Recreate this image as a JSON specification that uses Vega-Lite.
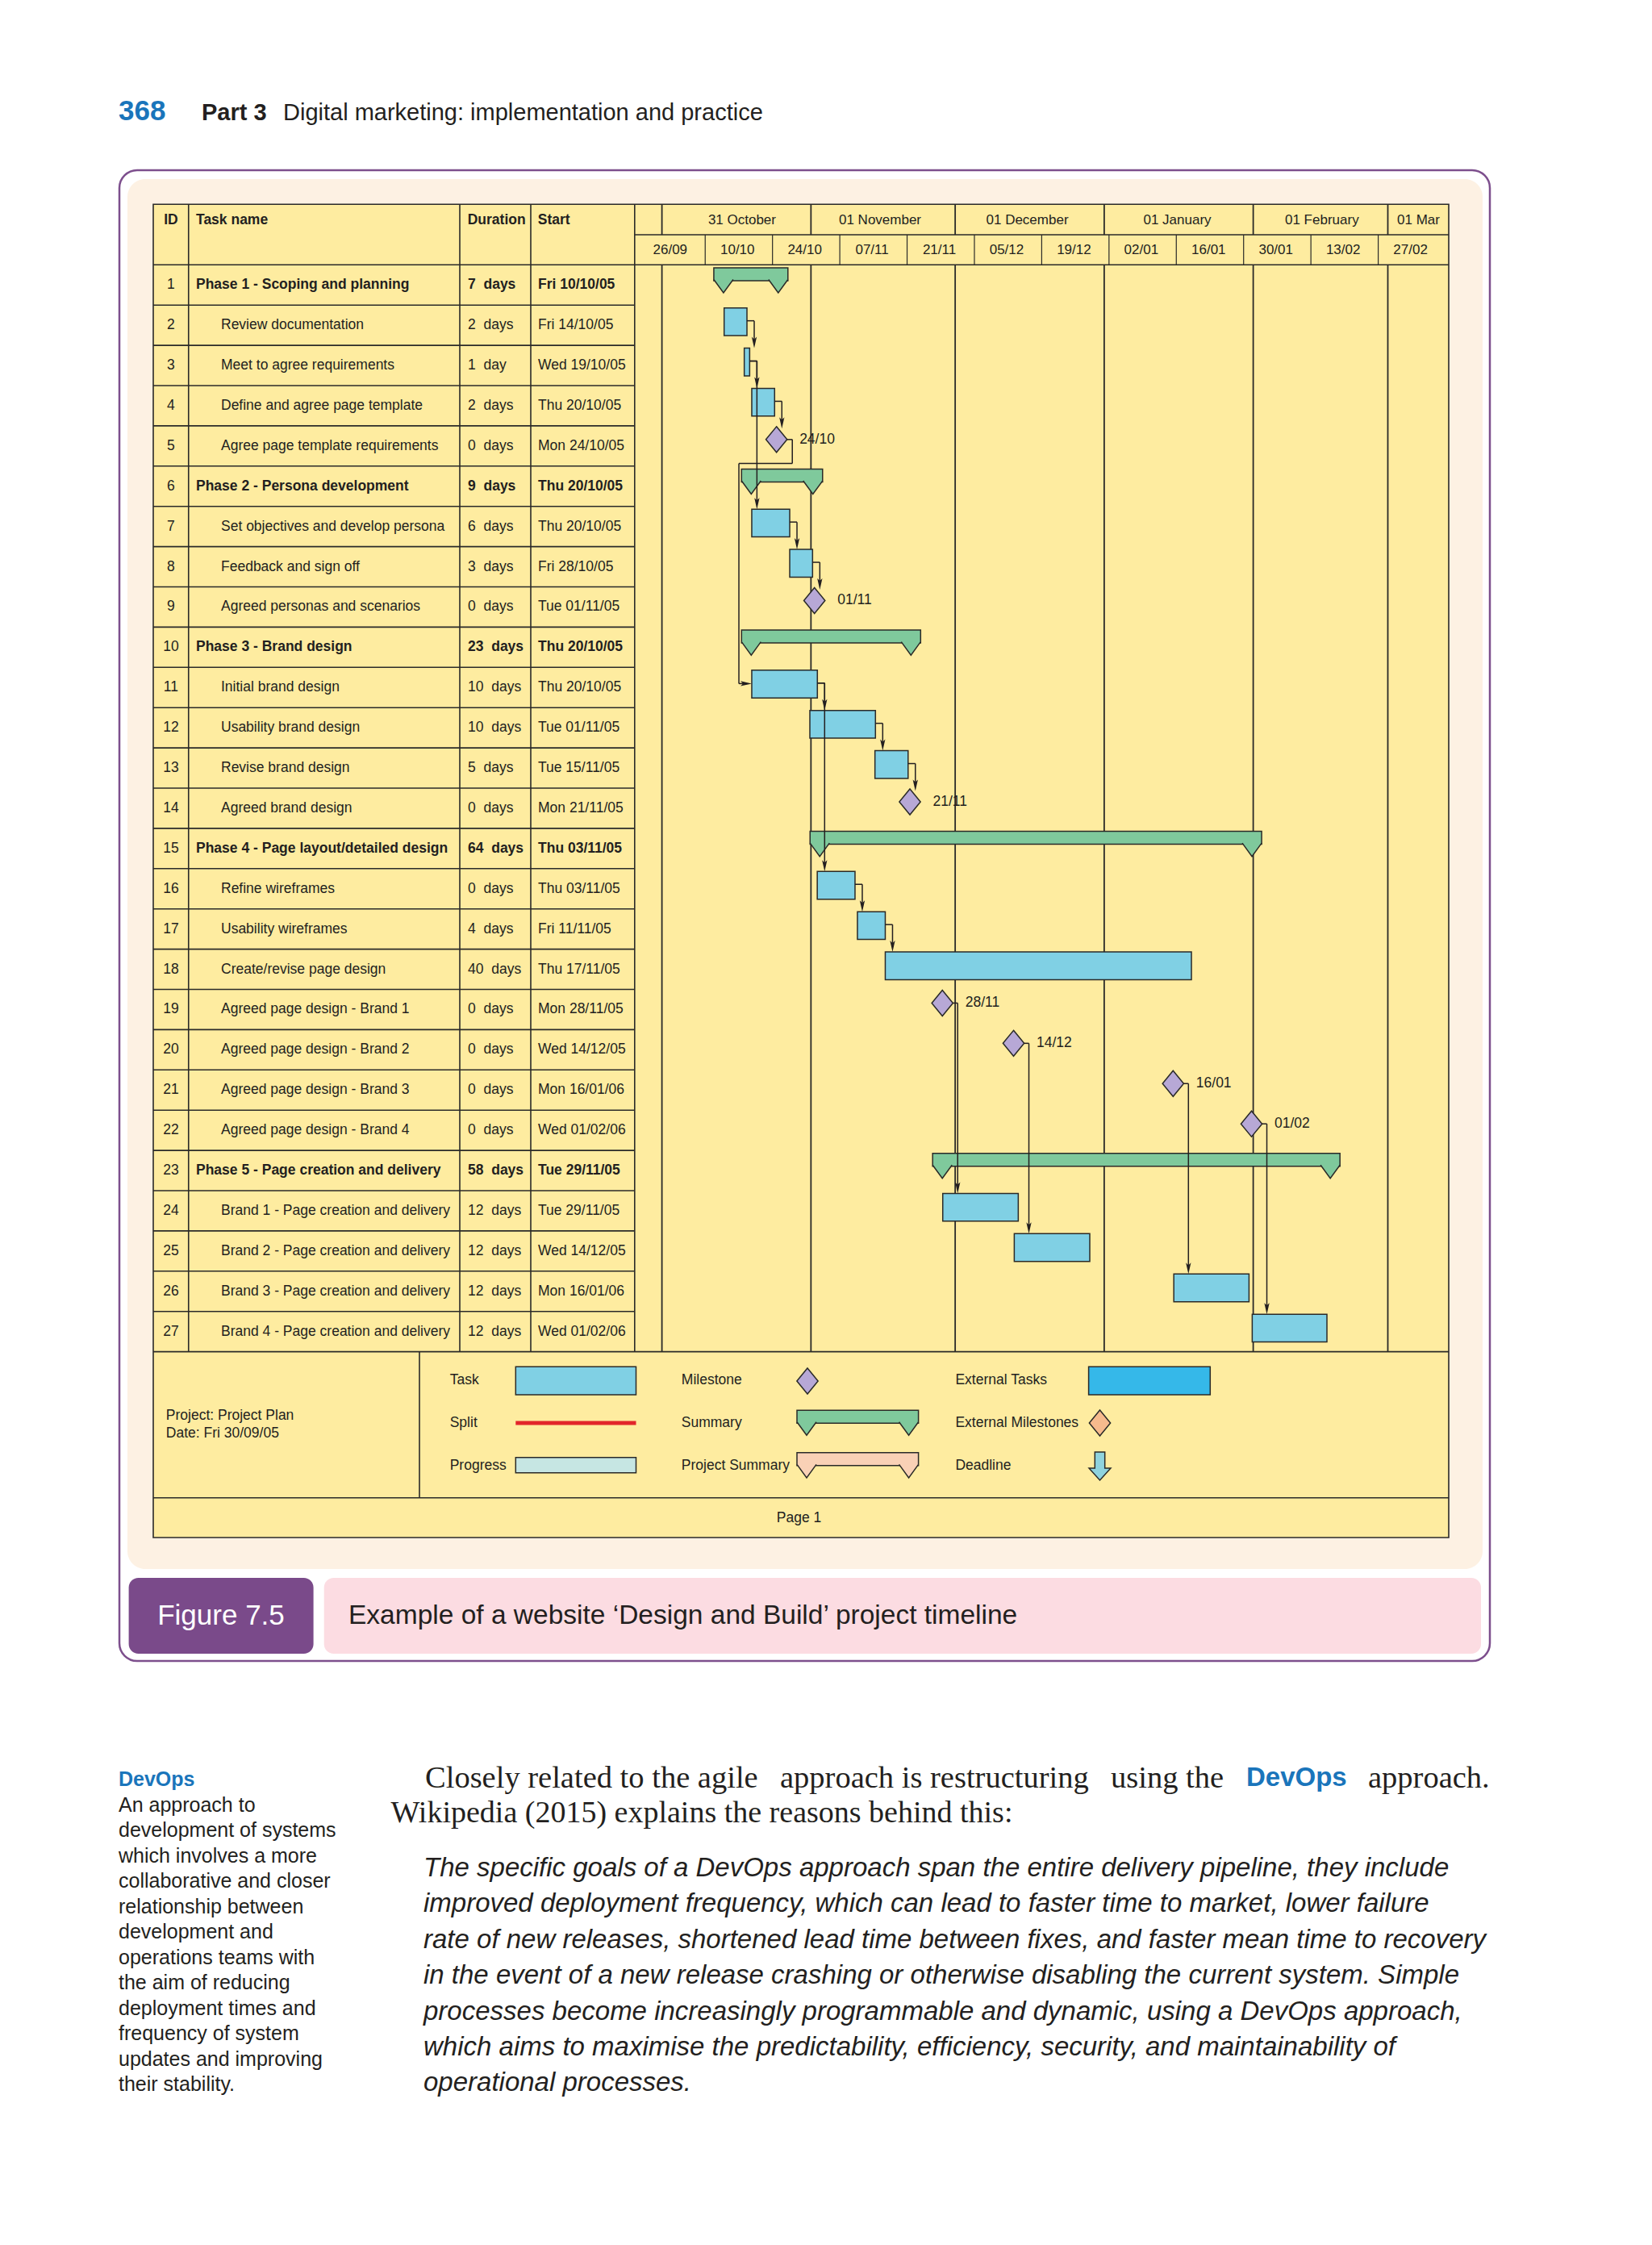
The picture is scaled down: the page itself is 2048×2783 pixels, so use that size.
{
"$schema": "https://vega.github.io/schema/vega-lite/v6.json",
"width": 2048, "height": 2783, "autosize": "none", "padding": 0,
"background": "#ffffff",
"config": {"view": {"stroke": null}, "text": {"font": "Liberation Sans", "color": "#231f20"}},
"datasets": {
 "one": [{}],
 "tasks": [
  {"id":1,"name":"Phase 1 - Scoping and planning","dur":"7\u00a0\u00a0days","start":"Fri 10/10/05","type":"summary","s":"2005-10-11T19:00","e":"2005-10-27T05:00"},
  {"id":2,"name":"Review documentation","dur":"2\u00a0\u00a0days","start":"Fri 14/10/05","type":"task","s":"2005-10-13T22:30","e":"2005-10-18T16:30"},
  {"id":3,"name":"Meet to agree requirements","dur":"1\u00a0\u00a0day","start":"Wed 19/10/05","type":"task","s":"2005-10-18T03:00","e":"2005-10-19T06:00"},
  {"id":4,"name":"Define and agree page template","dur":"2\u00a0\u00a0days","start":"Thu 20/10/05","type":"task","s":"2005-10-19T16:30","e":"2005-10-24T10:30"},
  {"id":5,"name":"Agree page template requirements","dur":"0\u00a0\u00a0days","start":"Mon 24/10/05","type":"milestone","s":"2005-10-24T20:00","e":"2005-10-24T20:00","lbl":"24/10"},
  {"id":6,"name":"Phase 2 - Persona development","dur":"9\u00a0\u00a0days","start":"Thu 20/10/05","type":"summary","s":"2005-10-17T13:30","e":"2005-11-03T10:00"},
  {"id":7,"name":"Set objectives and develop persona","dur":"6\u00a0\u00a0days","start":"Thu 20/10/05","type":"task","s":"2005-10-19T16:30","e":"2005-10-27T14:00"},
  {"id":8,"name":"Feedback and sign off","dur":"3\u00a0\u00a0days","start":"Fri 28/10/05","type":"task","s":"2005-10-27T14:00","e":"2005-11-01T08:00"},
  {"id":9,"name":"Agreed personas and scenarios","dur":"0\u00a0\u00a0days","start":"Tue 01/11/05","type":"milestone","s":"2005-11-01T17:30","e":"2005-11-01T17:30","lbl":"01/11"},
  {"id":10,"name":"Phase 3 - Brand design","dur":"23\u00a0\u00a0days","start":"Thu 20/10/05","type":"summary","s":"2005-10-17T13:30","e":"2005-11-23T19:30"},
  {"id":11,"name":"Initial brand design","dur":"10\u00a0\u00a0days","start":"Thu 20/10/05","type":"task","s":"2005-10-19T16:30","e":"2005-11-02T08:00"},
  {"id":12,"name":"Usability brand design","dur":"10\u00a0\u00a0days","start":"Tue 01/11/05","type":"task","s":"2005-10-31T18:30","e":"2005-11-14T10:00"},
  {"id":13,"name":"Revise brand design","dur":"5\u00a0\u00a0days","start":"Tue 15/11/05","type":"task","s":"2005-11-14T07:30","e":"2005-11-21T05:00"},
  {"id":14,"name":"Agreed brand design","dur":"0\u00a0\u00a0days","start":"Mon 21/11/05","type":"milestone","s":"2005-11-21T14:00","e":"2005-11-21T14:00","lbl":"21/11"},
  {"id":15,"name":"Phase 4 - Page layout/detailed design","dur":"64\u00a0\u00a0days","start":"Thu 03/11/05","type":"summary","s":"2005-10-31T19:30","e":"2006-02-02T18:00"},
  {"id":16,"name":"Refine wireframes","dur":"0\u00a0\u00a0days","start":"Thu 03/11/05","type":"task","s":"2005-11-02T07:30","e":"2005-11-10T04:00"},
  {"id":17,"name":"Usability wireframes","dur":"4\u00a0\u00a0days","start":"Fri 11/11/05","type":"task","s":"2005-11-10T16:00","e":"2005-11-16T11:00"},
  {"id":18,"name":"Create/revise page design","dur":"40\u00a0\u00a0days","start":"Thu 17/11/05","type":"task","s":"2005-11-16T11:00","e":"2006-01-19T03:30"},
  {"id":19,"name":"Agreed page design - Brand 1","dur":"0\u00a0\u00a0days","start":"Mon 28/11/05","type":"milestone","s":"2005-11-28T08:00","e":"2005-11-28T08:00","lbl":"28/11"},
  {"id":20,"name":"Agreed page design - Brand 2","dur":"0\u00a0\u00a0days","start":"Wed 14/12/05","type":"milestone","s":"2005-12-13T03:30","e":"2005-12-13T03:30","lbl":"14/12"},
  {"id":21,"name":"Agreed page design - Brand 3","dur":"0\u00a0\u00a0days","start":"Mon 16/01/06","type":"milestone","s":"2006-01-15T08:00","e":"2006-01-15T08:00","lbl":"16/01"},
  {"id":22,"name":"Agreed page design - Brand 4","dur":"0\u00a0\u00a0days","start":"Wed 01/02/06","type":"milestone","s":"2006-01-31T15:30","e":"2006-01-31T15:30","lbl":"01/02"},
  {"id":23,"name":"Phase 5 - Page creation and delivery","dur":"58\u00a0\u00a0days","start":"Tue 29/11/05","type":"summary","s":"2005-11-26T07:30","e":"2006-02-19T01:00"},
  {"id":24,"name":"Brand 1 - Page creation and delivery","dur":"12\u00a0\u00a0days","start":"Tue 29/11/05","type":"task","s":"2005-11-28T10:00","e":"2005-12-14T03:00"},
  {"id":25,"name":"Brand 2 - Page creation and delivery","dur":"12\u00a0\u00a0days","start":"Wed 14/12/05","type":"task","s":"2005-12-13T07:00","e":"2005-12-29T00:00"},
  {"id":26,"name":"Brand 3 - Page creation and delivery","dur":"12\u00a0\u00a0days","start":"Mon 16/01/06","type":"task","s":"2006-01-15T11:30","e":"2006-01-31T03:00"},
  {"id":27,"name":"Brand 4 - Page creation and delivery","dur":"12\u00a0\u00a0days","start":"Wed 01/02/06","type":"task","s":"2006-01-31T19:00","e":"2006-02-16T08:00"}
 ],
 "months": [
  {"label":"31 October","d":"2005-10-01T00:00","mid":"2005-10-17T16:00"},
  {"label":"01 November","d":"2005-11-01T00:00","mid":"2005-11-15T09:00"},
  {"label":"01 December","d":"2005-12-01T00:00","mid":"2005-12-16T00:00"},
  {"label":"01 January","d":"2006-01-01T00:00","mid":"2006-01-16T05:00"},
  {"label":"01 February","d":"2006-02-01T00:00","mid":"2006-02-15T07:00"},
  {"label":"01 Mar","d":"2006-03-01T00:00","mid":"2006-03-07T09:00"}
 ],
 "weeks": [
  {"label":"26/09","d":"2005-09-26T00:00"},
  {"label":"10/10","d":"2005-10-10T00:00"},
  {"label":"24/10","d":"2005-10-24T00:00"},
  {"label":"07/11","d":"2005-11-07T00:00"},
  {"label":"21/11","d":"2005-11-21T00:00"},
  {"label":"05/12","d":"2005-12-05T00:00"},
  {"label":"19/12","d":"2005-12-19T00:00"},
  {"label":"02/01","d":"2006-01-02T00:00"},
  {"label":"16/01","d":"2006-01-16T00:00"},
  {"label":"30/01","d":"2006-01-30T00:00"},
  {"label":"13/02","d":"2006-02-13T00:00"},
  {"label":"27/02","d":"2006-02-27T00:00"}
 ],
 "conn": [
  {"src":2,"dst":3,"t":"2005-10-18T16:30","kind":"task"},
  {"src":3,"dst":4,"t":"2005-10-19T06:00","kind":"task"},
  {"src":3,"dst":7,"t":"2005-10-19T06:00","kind":"task"},
  {"src":4,"dst":5,"t":"2005-10-24T10:30","kind":"task"},
  {"src":7,"dst":8,"t":"2005-10-27T14:00","kind":"task"},
  {"src":8,"dst":9,"t":"2005-11-01T08:00","kind":"task"},
  {"src":11,"dst":12,"t":"2005-11-02T08:00","kind":"task"},
  {"src":11,"dst":16,"t":"2005-11-02T08:00","kind":"task"},
  {"src":12,"dst":13,"t":"2005-11-14T10:00","kind":"task"},
  {"src":13,"dst":14,"t":"2005-11-21T05:00","kind":"task"},
  {"src":16,"dst":17,"t":"2005-11-10T04:00","kind":"task"},
  {"src":17,"dst":18,"t":"2005-11-16T11:00","kind":"task"},
  {"src":19,"dst":24,"t":"2005-11-28T08:00","kind":"ms"},
  {"src":20,"dst":25,"t":"2005-12-13T03:30","kind":"ms"},
  {"src":21,"dst":26,"t":"2006-01-15T08:00","kind":"ms"},
  {"src":22,"dst":27,"t":"2006-01-31T15:30","kind":"ms"}
 ],
 "loop": [
  {"src":5,"mid":6,"dst":11,"t":"2005-10-24T20:00","left":"2005-10-17T13:30","end":"2005-10-19T16:30"}
 ],
 "side": [
  {"line":1,"t":"An approach to"},
  {"line":2,"t":"development of systems"},
  {"line":3,"t":"which involves a more"},
  {"line":4,"t":"collaborative and closer"},
  {"line":5,"t":"relationship between"},
  {"line":6,"t":"development and"},
  {"line":7,"t":"operations teams with"},
  {"line":8,"t":"the aim of reducing"},
  {"line":9,"t":"deployment times and"},
  {"line":10,"t":"frequency of system"},
  {"line":11,"t":"updates and improving"},
  {"line":12,"t":"their stability."}
 ],
 "quote": [
  {"line":0,"t":"The specific goals of a DevOps approach span the entire delivery pipeline, they include"},
  {"line":1,"t":"improved deployment frequency, which can lead to faster time to market, lower failure"},
  {"line":2,"t":"rate of new releases, shortened lead time between fixes, and faster mean time to recovery"},
  {"line":3,"t":"in the event of a new release crashing or otherwise disabling the current system. Simple"},
  {"line":4,"t":"processes become increasingly programmable and dynamic, using a DevOps approach,"},
  {"line":5,"t":"which aims to maximise the predictability, efficiency, security, and maintainability of"},
  {"line":6,"t":"operational processes."}
 ]
},
"resolve": {"scale": {"x": "independent", "y": "independent"}},
"layer": [
 {"data":{"name":"one"},"mark":{"type":"rect","fill":"#ffffff","stroke":"#7d4f8d","strokeWidth":2.5,"cornerRadius":22},"encoding":{"x":{"value":148},"x2":{"value":1847},"y":{"value":211},"y2":{"value":2059}}},
 {"data":{"name":"one"},"mark":{"type":"rect","fill":"#fdf1e3","cornerRadius":22},"encoding":{"x":{"value":158},"x2":{"value":1838},"y":{"value":222},"y2":{"value":1945}}},
 {"data":{"name":"one"},"mark":{"type":"rect","fill":"#7a4a8a","cornerRadius":12},"encoding":{"x":{"value":159.6},"x2":{"value":388.6},"y":{"value":1956},"y2":{"value":2050}}},
 {"data":{"name":"one"},"mark":{"type":"rect","fill":"#fcdce2","cornerRadius":12},"encoding":{"x":{"value":401.7},"x2":{"value":1836},"y":{"value":1956},"y2":{"value":2050}}},
 {"data":{"name":"one"},"mark":{"type":"text","text":"Figure 7.5","fontSize":35,"color":"#ffffff","align":"center","baseline":"middle"},"encoding":{"x":{"value":274},"y":{"value":2003}}},
 {"data":{"name":"one"},"mark":{"type":"text","text":"Example of a website \u2018Design and Build\u2019 project timeline","fontSize":33.5,"align":"left","baseline":"middle"},"encoding":{"x":{"value":432},"y":{"value":2003}}},

 {"data":{"name":"one"},"mark":{"type":"rect","fill":"#feeca0","stroke":"#2a2a28","strokeWidth":1.6},"encoding":{"x":{"value":190},"x2":{"value":1796},"y":{"value":253.3},"y2":{"value":1906}}},

 {"data":{"name":"tasks"},"transform":[{"filter":"datum.id < 27"}],"mark":{"type":"rule","stroke":"#2a2a28","strokeWidth":1.6,"yOffset":24.95},"encoding":{"y":{"field":"id","type":"quantitative","scale":{"type":"linear","domain":[0.5,27.5],"range":[328.3,1675.6],"nice":false,"zero":false},"axis":null},"x":{"value":190},"x2":{"value":786.8}}},
 {"data":{"name":"one"},"mark":{"type":"rule","stroke":"#2a2a28","strokeWidth":1.6},"encoding":{"y":{"value":291},"x":{"value":786.8},"x2":{"value":1796}}},
 {"data":{"name":"one"},"mark":{"type":"rule","stroke":"#2a2a28","strokeWidth":1.6},"encoding":{"y":{"value":328.3},"x":{"value":190},"x2":{"value":1796}}},
 {"data":{"name":"one"},"mark":{"type":"rule","stroke":"#2a2a28","strokeWidth":1.6},"encoding":{"y":{"value":1675.6},"x":{"value":190},"x2":{"value":1796}}},
 {"data":{"name":"one"},"mark":{"type":"rule","stroke":"#2a2a28","strokeWidth":1.6},"encoding":{"y":{"value":1856.7},"x":{"value":190},"x2":{"value":1796}}},
 {"data":{"name":"one"},"mark":{"type":"rule","stroke":"#2a2a28","strokeWidth":1.6},"encoding":{"x":{"value":233.75},"y":{"value":253.3},"y2":{"value":1675.6}}},
 {"data":{"name":"one"},"mark":{"type":"rule","stroke":"#2a2a28","strokeWidth":1.6},"encoding":{"x":{"value":570},"y":{"value":253.3},"y2":{"value":1675.6}}},
 {"data":{"name":"one"},"mark":{"type":"rule","stroke":"#2a2a28","strokeWidth":1.6},"encoding":{"x":{"value":658},"y":{"value":253.3},"y2":{"value":1675.6}}},
 {"data":{"name":"one"},"mark":{"type":"rule","stroke":"#2a2a28","strokeWidth":1.6},"encoding":{"x":{"value":786.8},"y":{"value":253.3},"y2":{"value":1675.6}}},
 {"data":{"name":"one"},"mark":{"type":"rule","stroke":"#2a2a28","strokeWidth":1.6},"encoding":{"x":{"value":520},"y":{"value":1675.6},"y2":{"value":1856.7}}},

 {"data":{"name":"months"},"mark":{"type":"rule","stroke":"#2a2a28","strokeWidth":1.8},"encoding":{"x":{"field":"d","type":"temporal","scale":{"type":"time","domain":[{"year":2005,"month":10,"date":1},{"year":2006,"month":3,"date":1}],"range":[820.6,1720.5],"nice":false},"axis":null},"y":{"value":253.3},"y2":{"value":291}}},
 {"data":{"name":"months"},"mark":{"type":"rule","stroke":"#2a2a28","strokeWidth":1.8},"encoding":{"x":{"field":"d","type":"temporal","scale":{"type":"time","domain":[{"year":2005,"month":10,"date":1},{"year":2006,"month":3,"date":1}],"range":[820.6,1720.5],"nice":false},"axis":null},"y":{"value":328.3},"y2":{"value":1675.6}}},
 {"data":{"name":"weeks"},"transform":[{"filter":"datum.label !== '26/09'"}],"mark":{"type":"rule","stroke":"#2a2a28","strokeWidth":1.2},"encoding":{"x":{"field":"d","type":"temporal","scale":{"type":"time","domain":[{"year":2005,"month":10,"date":1},{"year":2006,"month":3,"date":1}],"range":[820.6,1720.5],"nice":false},"axis":null},"y":{"value":291},"y2":{"value":328.3}}},
 {"data":{"name":"months"},"mark":{"type":"text","fontSize":17,"align":"center","baseline":"middle"},"encoding":{"x":{"field":"mid","type":"temporal","scale":{"type":"time","domain":[{"year":2005,"month":10,"date":1},{"year":2006,"month":3,"date":1}],"range":[820.6,1720.5],"nice":false},"axis":null},"y":{"value":273},"text":{"field":"label"}}},
 {"data":{"name":"weeks"},"mark":{"type":"text","fontSize":17,"align":"center","baseline":"middle","dx":40},"encoding":{"x":{"field":"d","type":"temporal","scale":{"type":"time","domain":[{"year":2005,"month":10,"date":1},{"year":2006,"month":3,"date":1}],"range":[820.6,1720.5],"nice":false},"axis":null},"y":{"value":310},"text":{"field":"label"}}},

 {"data":{"name":"one"},"mark":{"type":"text","text":"ID","fontSize":17.5,"fontWeight":"bold","align":"center","baseline":"middle"},"encoding":{"x":{"value":211.9},"y":{"value":273}}},
 {"data":{"name":"one"},"mark":{"type":"text","text":"Task name","fontSize":17.5,"fontWeight":"bold","align":"left","baseline":"middle"},"encoding":{"x":{"value":243},"y":{"value":273}}},
 {"data":{"name":"one"},"mark":{"type":"text","text":"Duration","fontSize":17.5,"fontWeight":"bold","align":"left","baseline":"middle"},"encoding":{"x":{"value":579.7},"y":{"value":273}}},
 {"data":{"name":"one"},"mark":{"type":"text","text":"Start","fontSize":17.5,"fontWeight":"bold","align":"left","baseline":"middle"},"encoding":{"x":{"value":666.8},"y":{"value":273}}},

 {"data":{"name":"tasks"},"transform":[{"filter":"datum.type === 'summary'"}],"mark":{"type":"rect","fill":"#7fc99c","stroke":"#2a2a28","strokeWidth":1.5,"yOffset":-21.25,"y2Offset":-5.25},"encoding":{"x":{"field":"s","type":"temporal","scale":{"type":"time","domain":[{"year":2005,"month":10,"date":1},{"year":2006,"month":3,"date":1}],"range":[820.6,1720.5],"nice":false},"axis":null},"x2":{"field":"e"},"y":{"field":"id","type":"quantitative","scale":{"type":"linear","domain":[0.5,27.5],"range":[328.3,1675.6],"nice":false,"zero":false},"axis":null},"y2":{"field":"id"}}},
 {"data":{"name":"tasks"},"transform":[{"filter":"datum.type === 'summary'"}],"mark":{"type":"point","shape":"M-1,-0.6875L0,0.6875L1,-0.6875","size":576,"filled":true,"fill":"#7fc99c","stroke":"#2a2a28","strokeWidth":1.5,"opacity":1,"xOffset":12,"yOffset":1.5},"encoding":{"x":{"field":"s","type":"temporal","scale":{"type":"time","domain":[{"year":2005,"month":10,"date":1},{"year":2006,"month":3,"date":1}],"range":[820.6,1720.5],"nice":false},"axis":null},"y":{"field":"id","type":"quantitative","scale":{"type":"linear","domain":[0.5,27.5],"range":[328.3,1675.6],"nice":false,"zero":false},"axis":null}}},
 {"data":{"name":"tasks"},"transform":[{"filter":"datum.type === 'summary'"}],"mark":{"type":"point","shape":"M-1,-0.6875L0,0.6875L1,-0.6875","size":576,"filled":true,"fill":"#7fc99c","stroke":"#2a2a28","strokeWidth":1.5,"opacity":1,"xOffset":-12,"yOffset":1.5},"encoding":{"x":{"field":"e","type":"temporal","scale":{"type":"time","domain":[{"year":2005,"month":10,"date":1},{"year":2006,"month":3,"date":1}],"range":[820.6,1720.5],"nice":false},"axis":null},"y":{"field":"id","type":"quantitative","scale":{"type":"linear","domain":[0.5,27.5],"range":[328.3,1675.6],"nice":false,"zero":false},"axis":null}}},
 {"data":{"name":"tasks"},"transform":[{"filter":"datum.type === 'task'"}],"mark":{"type":"rect","fill":"#80d0e4","stroke":"#2a2a28","strokeWidth":1.5,"yOffset":-21.5,"y2Offset":12.9},"encoding":{"x":{"field":"s","type":"temporal","scale":{"type":"time","domain":[{"year":2005,"month":10,"date":1},{"year":2006,"month":3,"date":1}],"range":[820.6,1720.5],"nice":false},"axis":null},"x2":{"field":"e"},"y":{"field":"id","type":"quantitative","scale":{"type":"linear","domain":[0.5,27.5],"range":[328.3,1675.6],"nice":false,"zero":false},"axis":null},"y2":{"field":"id"}}},
 {"data":{"name":"tasks"},"transform":[{"filter":"datum.type === 'milestone'"}],"mark":{"type":"point","shape":"M0,-1L0.82,0L0,1L-0.82,0Z","size":1024,"filled":true,"fill":"#b7a8d6","stroke":"#2a2a28","strokeWidth":1.5,"opacity":1,"yOffset":-8},"encoding":{"x":{"field":"s","type":"temporal","scale":{"type":"time","domain":[{"year":2005,"month":10,"date":1},{"year":2006,"month":3,"date":1}],"range":[820.6,1720.5],"nice":false},"axis":null},"y":{"field":"id","type":"quantitative","scale":{"type":"linear","domain":[0.5,27.5],"range":[328.3,1675.6],"nice":false,"zero":false},"axis":null}}},

 {"data":{"name":"conn"},"transform":[{"filter":"datum.kind === 'task'"}],"mark":{"type":"rule","stroke":"#231f20","strokeWidth":1.5,"x2Offset":9,"yOffset":-5.5},"encoding":{"x":{"field":"t","type":"temporal","scale":{"type":"time","domain":[{"year":2005,"month":10,"date":1},{"year":2006,"month":3,"date":1}],"range":[820.6,1720.5],"nice":false},"axis":null},"x2":{"field":"t"},"y":{"field":"src","type":"quantitative","scale":{"type":"linear","domain":[0.5,27.5],"range":[328.3,1675.6],"nice":false,"zero":false},"axis":null}}},
 {"data":{"name":"conn"},"transform":[{"filter":"datum.kind === 'task'"}],"mark":{"type":"rule","stroke":"#231f20","strokeWidth":1.5,"xOffset":9,"yOffset":-5.5,"y2Offset":-28},"encoding":{"x":{"field":"t","type":"temporal","scale":{"type":"time","domain":[{"year":2005,"month":10,"date":1},{"year":2006,"month":3,"date":1}],"range":[820.6,1720.5],"nice":false},"axis":null},"y":{"field":"src","type":"quantitative","scale":{"type":"linear","domain":[0.5,27.5],"range":[328.3,1675.6],"nice":false,"zero":false},"axis":null},"y2":{"field":"dst"}}},
 {"data":{"name":"conn"},"transform":[{"filter":"datum.kind === 'task'"}],"mark":{"type":"point","shape":"M0,1L-0.45,-1L0,-0.55L0.45,-1Z","size":196,"filled":true,"fill":"#231f20","strokeWidth":0,"opacity":1,"xOffset":9,"yOffset":-28.5},"encoding":{"x":{"field":"t","type":"temporal","scale":{"type":"time","domain":[{"year":2005,"month":10,"date":1},{"year":2006,"month":3,"date":1}],"range":[820.6,1720.5],"nice":false},"axis":null},"y":{"field":"dst","type":"quantitative","scale":{"type":"linear","domain":[0.5,27.5],"range":[328.3,1675.6],"nice":false,"zero":false},"axis":null}}},
 {"data":{"name":"conn"},"transform":[{"filter":"datum.kind === 'ms'"}],"mark":{"type":"rule","stroke":"#231f20","strokeWidth":1.5,"xOffset":13,"x2Offset":19,"yOffset":-8},"encoding":{"x":{"field":"t","type":"temporal","scale":{"type":"time","domain":[{"year":2005,"month":10,"date":1},{"year":2006,"month":3,"date":1}],"range":[820.6,1720.5],"nice":false},"axis":null},"x2":{"field":"t"},"y":{"field":"src","type":"quantitative","scale":{"type":"linear","domain":[0.5,27.5],"range":[328.3,1675.6],"nice":false,"zero":false},"axis":null}}},
 {"data":{"name":"conn"},"transform":[{"filter":"datum.kind === 'ms'"}],"mark":{"type":"rule","stroke":"#231f20","strokeWidth":1.5,"xOffset":19,"yOffset":-8,"y2Offset":-28},"encoding":{"x":{"field":"t","type":"temporal","scale":{"type":"time","domain":[{"year":2005,"month":10,"date":1},{"year":2006,"month":3,"date":1}],"range":[820.6,1720.5],"nice":false},"axis":null},"y":{"field":"src","type":"quantitative","scale":{"type":"linear","domain":[0.5,27.5],"range":[328.3,1675.6],"nice":false,"zero":false},"axis":null},"y2":{"field":"dst"}}},
 {"data":{"name":"conn"},"transform":[{"filter":"datum.kind === 'ms'"}],"mark":{"type":"point","shape":"M0,1L-0.45,-1L0,-0.55L0.45,-1Z","size":196,"filled":true,"fill":"#231f20","strokeWidth":0,"opacity":1,"xOffset":19,"yOffset":-28.5},"encoding":{"x":{"field":"t","type":"temporal","scale":{"type":"time","domain":[{"year":2005,"month":10,"date":1},{"year":2006,"month":3,"date":1}],"range":[820.6,1720.5],"nice":false},"axis":null},"y":{"field":"dst","type":"quantitative","scale":{"type":"linear","domain":[0.5,27.5],"range":[328.3,1675.6],"nice":false,"zero":false},"axis":null}}},

 {"data":{"name":"loop"},"mark":{"type":"rule","stroke":"#231f20","strokeWidth":1.5,"xOffset":13,"x2Offset":19.6,"yOffset":-8},"encoding":{"x":{"field":"t","type":"temporal","scale":{"type":"time","domain":[{"year":2005,"month":10,"date":1},{"year":2006,"month":3,"date":1}],"range":[820.6,1720.5],"nice":false},"axis":null},"x2":{"field":"t"},"y":{"field":"src","type":"quantitative","scale":{"type":"linear","domain":[0.5,27.5],"range":[328.3,1675.6],"nice":false,"zero":false},"axis":null}}},
 {"data":{"name":"loop"},"mark":{"type":"rule","stroke":"#231f20","strokeWidth":1.5,"xOffset":19.6,"yOffset":-8,"y2Offset":-28.25},"encoding":{"x":{"field":"t","type":"temporal","scale":{"type":"time","domain":[{"year":2005,"month":10,"date":1},{"year":2006,"month":3,"date":1}],"range":[820.6,1720.5],"nice":false},"axis":null},"y":{"field":"src","type":"quantitative","scale":{"type":"linear","domain":[0.5,27.5],"range":[328.3,1675.6],"nice":false,"zero":false},"axis":null},"y2":{"field":"mid"}}},
 {"data":{"name":"loop"},"mark":{"type":"rule","stroke":"#231f20","strokeWidth":1.5,"xOffset":19.6,"x2Offset":-3.3,"yOffset":-28.25},"encoding":{"x":{"field":"t","type":"temporal","scale":{"type":"time","domain":[{"year":2005,"month":10,"date":1},{"year":2006,"month":3,"date":1}],"range":[820.6,1720.5],"nice":false},"axis":null},"x2":{"field":"left"},"y":{"field":"mid","type":"quantitative","scale":{"type":"linear","domain":[0.5,27.5],"range":[328.3,1675.6],"nice":false,"zero":false},"axis":null}}},
 {"data":{"name":"loop"},"mark":{"type":"rule","stroke":"#231f20","strokeWidth":1.5,"xOffset":-3.3,"yOffset":-28.25,"y2Offset":-4.85},"encoding":{"x":{"field":"left","type":"temporal","scale":{"type":"time","domain":[{"year":2005,"month":10,"date":1},{"year":2006,"month":3,"date":1}],"range":[820.6,1720.5],"nice":false},"axis":null},"y":{"field":"mid","type":"quantitative","scale":{"type":"linear","domain":[0.5,27.5],"range":[328.3,1675.6],"nice":false,"zero":false},"axis":null},"y2":{"field":"dst"}}},
 {"data":{"name":"loop"},"mark":{"type":"rule","stroke":"#231f20","strokeWidth":1.5,"xOffset":-3.3,"x2Offset":-8,"yOffset":-4.85},"encoding":{"x":{"field":"left","type":"temporal","scale":{"type":"time","domain":[{"year":2005,"month":10,"date":1},{"year":2006,"month":3,"date":1}],"range":[820.6,1720.5],"nice":false},"axis":null},"x2":{"field":"end"},"y":{"field":"dst","type":"quantitative","scale":{"type":"linear","domain":[0.5,27.5],"range":[328.3,1675.6],"nice":false,"zero":false},"axis":null}}},
 {"data":{"name":"loop"},"mark":{"type":"point","shape":"M1,0L-1,-0.45L-0.55,0L-1,0.45Z","size":196,"filled":true,"fill":"#231f20","strokeWidth":0,"opacity":1,"xOffset":-7,"yOffset":-4.85},"encoding":{"x":{"field":"end","type":"temporal","scale":{"type":"time","domain":[{"year":2005,"month":10,"date":1},{"year":2006,"month":3,"date":1}],"range":[820.6,1720.5],"nice":false},"axis":null},"y":{"field":"dst","type":"quantitative","scale":{"type":"linear","domain":[0.5,27.5],"range":[328.3,1675.6],"nice":false,"zero":false},"axis":null}}},

 {"data":{"name":"tasks"},"transform":[{"filter":"datum.type === 'milestone'"}],"mark":{"type":"text","fontSize":17.5,"align":"left","baseline":"middle","dx":28.5,"dy":-8},"encoding":{"x":{"field":"s","type":"temporal","scale":{"type":"time","domain":[{"year":2005,"month":10,"date":1},{"year":2006,"month":3,"date":1}],"range":[820.6,1720.5],"nice":false},"axis":null},"y":{"field":"id","type":"quantitative","scale":{"type":"linear","domain":[0.5,27.5],"range":[328.3,1675.6],"nice":false,"zero":false},"axis":null},"text":{"field":"lbl"}}},

 {"data":{"name":"tasks"},"mark":{"type":"text","fontSize":17.5,"align":"center","baseline":"middle"},"encoding":{"x":{"value":211.9},"y":{"field":"id","type":"quantitative","scale":{"type":"linear","domain":[0.5,27.5],"range":[328.3,1675.6],"nice":false,"zero":false},"axis":null},"text":{"field":"id","type":"nominal"}}},
 {"data":{"name":"tasks"},"transform":[{"filter":"datum.type === 'summary'"}],"mark":{"type":"text","fontSize":17.5,"fontWeight":"bold","align":"left","baseline":"middle"},"encoding":{"x":{"value":243},"y":{"field":"id","type":"quantitative","scale":{"type":"linear","domain":[0.5,27.5],"range":[328.3,1675.6],"nice":false,"zero":false},"axis":null},"text":{"field":"name"}}},
 {"data":{"name":"tasks"},"transform":[{"filter":"datum.type !== 'summary'"}],"mark":{"type":"text","fontSize":17.5,"align":"left","baseline":"middle"},"encoding":{"x":{"value":274},"y":{"field":"id","type":"quantitative","scale":{"type":"linear","domain":[0.5,27.5],"range":[328.3,1675.6],"nice":false,"zero":false},"axis":null},"text":{"field":"name"}}},
 {"data":{"name":"tasks"},"transform":[{"filter":"datum.type === 'summary'"}],"mark":{"type":"text","fontSize":17.5,"fontWeight":"bold","align":"left","baseline":"middle"},"encoding":{"x":{"value":580},"y":{"field":"id","type":"quantitative","scale":{"type":"linear","domain":[0.5,27.5],"range":[328.3,1675.6],"nice":false,"zero":false},"axis":null},"text":{"field":"dur"}}},
 {"data":{"name":"tasks"},"transform":[{"filter":"datum.type !== 'summary'"}],"mark":{"type":"text","fontSize":17.5,"align":"left","baseline":"middle"},"encoding":{"x":{"value":580},"y":{"field":"id","type":"quantitative","scale":{"type":"linear","domain":[0.5,27.5],"range":[328.3,1675.6],"nice":false,"zero":false},"axis":null},"text":{"field":"dur"}}},
 {"data":{"name":"tasks"},"transform":[{"filter":"datum.type === 'summary'"}],"mark":{"type":"text","fontSize":17.5,"fontWeight":"bold","align":"left","baseline":"middle"},"encoding":{"x":{"value":667},"y":{"field":"id","type":"quantitative","scale":{"type":"linear","domain":[0.5,27.5],"range":[328.3,1675.6],"nice":false,"zero":false},"axis":null},"text":{"field":"start"}}},
 {"data":{"name":"tasks"},"transform":[{"filter":"datum.type !== 'summary'"}],"mark":{"type":"text","fontSize":17.5,"align":"left","baseline":"middle"},"encoding":{"x":{"value":667},"y":{"field":"id","type":"quantitative","scale":{"type":"linear","domain":[0.5,27.5],"range":[328.3,1675.6],"nice":false,"zero":false},"axis":null},"text":{"field":"start"}}},

 {"data":{"values":[{"l":"Project: Project Plan"},{"l":"Date: Fri 30/09/05"}]},"mark":{"type":"text","fontSize":17.5,"align":"left","baseline":"middle"},"encoding":{"x":{"value":205.8},"y":{"field":"l","type":"nominal","scale":{"type":"point","domain":["Project: Project Plan","Date: Fri 30/09/05"],"range":[1755,1777],"padding":0},"axis":null},"text":{"field":"l"}}},
 {"data":{"values":[{"l":"Task"},{"l":"Split"},{"l":"Progress"}]},"mark":{"type":"text","fontSize":17.5,"align":"left","baseline":"middle"},"encoding":{"x":{"value":557.7},"y":{"field":"l","type":"nominal","scale":{"type":"point","domain":["Task","Split","Progress"],"range":[1710.7,1816.7],"padding":0},"axis":null},"text":{"field":"l"}}},
 {"data":{"values":[{"l":"Milestone"},{"l":"Summary"},{"l":"Project Summary"}]},"mark":{"type":"text","fontSize":17.5,"align":"left","baseline":"middle"},"encoding":{"x":{"value":844.8},"y":{"field":"l","type":"nominal","scale":{"type":"point","domain":["Milestone","Summary","Project Summary"],"range":[1710.7,1816.7],"padding":0},"axis":null},"text":{"field":"l"}}},
 {"data":{"values":[{"l":"External Tasks"},{"l":"External Milestones"},{"l":"Deadline"}]},"mark":{"type":"text","fontSize":17.5,"align":"left","baseline":"middle"},"encoding":{"x":{"value":1184.4},"y":{"field":"l","type":"nominal","scale":{"type":"point","domain":["External Tasks","External Milestones","Deadline"],"range":[1710.7,1816.7],"padding":0},"axis":null},"text":{"field":"l"}}},
 {"data":{"name":"one"},"mark":{"type":"text","text":"Page 1","fontSize":17.5,"align":"center","baseline":"middle"},"encoding":{"x":{"value":990.6},"y":{"value":1881.7}}},

 {"data":{"name":"one"},"mark":{"type":"rect","fill":"#80d0e4","stroke":"#2a2a28","strokeWidth":1.5},"encoding":{"x":{"value":639.3},"x2":{"value":788.5},"y":{"value":1694.3},"y2":{"value":1729}}},
 {"data":{"name":"one"},"mark":{"type":"rule","stroke":"#e2262b","strokeWidth":5},"encoding":{"x":{"value":639.3},"x2":{"value":788.5},"y":{"value":1764}}},
 {"data":{"name":"one"},"mark":{"type":"rect","fill":"#c6e6e3","stroke":"#2a2a28","strokeWidth":1.5},"encoding":{"x":{"value":639.3},"x2":{"value":788.5},"y":{"value":1806.7},"y2":{"value":1825.7}}},
 {"data":{"name":"one"},"mark":{"type":"point","shape":"M0,-1L0.82,0L0,1L-0.82,0Z","size":1024,"filled":true,"fill":"#b7a8d6","stroke":"#2a2a28","strokeWidth":1.5,"opacity":1},"encoding":{"x":{"value":1001},"y":{"value":1712}}},
 {"data":{"name":"one"},"mark":{"type":"rect","fill":"#7fc99c","stroke":"#2a2a28","strokeWidth":1.5},"encoding":{"x":{"value":988},"x2":{"value":1138.6},"y":{"value":1748.3},"y2":{"value":1764.3}}},
 {"data":{"name":"one"},"mark":{"type":"point","shape":"M-1,-0.6875L0,0.6875L1,-0.6875","size":576,"filled":true,"fill":"#7fc99c","stroke":"#2a2a28","strokeWidth":1.5,"opacity":1},"encoding":{"x":{"value":1000},"y":{"value":1771}}},
 {"data":{"name":"one"},"mark":{"type":"point","shape":"M-1,-0.6875L0,0.6875L1,-0.6875","size":576,"filled":true,"fill":"#7fc99c","stroke":"#2a2a28","strokeWidth":1.5,"opacity":1},"encoding":{"x":{"value":1126.6},"y":{"value":1771}}},
 {"data":{"name":"one"},"mark":{"type":"rect","fill":"#f9d1b6","stroke":"#2a2a28","strokeWidth":1.5},"encoding":{"x":{"value":988},"x2":{"value":1138.6},"y":{"value":1800.7},"y2":{"value":1816.7}}},
 {"data":{"name":"one"},"mark":{"type":"point","shape":"M-1,-0.6875L0,0.6875L1,-0.6875","size":576,"filled":true,"fill":"#f9d1b6","stroke":"#2a2a28","strokeWidth":1.5,"opacity":1},"encoding":{"x":{"value":1000},"y":{"value":1823.6}}},
 {"data":{"name":"one"},"mark":{"type":"point","shape":"M-1,-0.6875L0,0.6875L1,-0.6875","size":576,"filled":true,"fill":"#f9d1b6","stroke":"#2a2a28","strokeWidth":1.5,"opacity":1},"encoding":{"x":{"value":1126.6},"y":{"value":1823.6}}},
 {"data":{"name":"one"},"mark":{"type":"rect","fill":"#35b8e9","stroke":"#2a2a28","strokeWidth":1.5},"encoding":{"x":{"value":1349.6},"x2":{"value":1500.3},"y":{"value":1694.3},"y2":{"value":1729}}},
 {"data":{"name":"one"},"mark":{"type":"point","shape":"M0,-1L0.82,0L0,1L-0.82,0Z","size":1024,"filled":true,"fill":"#f6ba8d","stroke":"#2a2a28","strokeWidth":1.5,"opacity":1},"encoding":{"x":{"value":1363.5},"y":{"value":1764}}},
 {"data":{"name":"one"},"mark":{"type":"point","shape":"M-0.354,-1L0.354,-1L0.354,0.143L0.77,0.143L0,1L-0.77,0.143L-0.354,0.143Z","size":1225,"filled":true,"fill":"#8fd3de","stroke":"#2a2a28","strokeWidth":1.5,"opacity":1},"encoding":{"x":{"value":1363.5},"y":{"value":1817.5}}},

 {"data":{"name":"one"},"mark":{"type":"text","text":"368","fontSize":35,"fontWeight":"bold","color":"#1a75bb","align":"left","baseline":"alphabetic"},"encoding":{"x":{"value":147},"y":{"value":149}}},
 {"data":{"name":"one"},"mark":{"type":"text","text":"Part 3","fontSize":29,"fontWeight":"bold","align":"left","baseline":"alphabetic"},"encoding":{"x":{"value":250},"y":{"value":149}}},
 {"data":{"name":"one"},"mark":{"type":"text","text":"Digital marketing: implementation and practice","fontSize":29,"align":"left","baseline":"alphabetic"},"encoding":{"x":{"value":351},"y":{"value":149}}},

 {"data":{"name":"one"},"mark":{"type":"text","text":"DevOps","fontSize":25,"fontWeight":"bold","color":"#1a75bb","align":"left","baseline":"middle"},"encoding":{"x":{"value":147},"y":{"value":2206}}},
 {"data":{"name":"side"},"mark":{"type":"text","fontSize":25,"align":"left","baseline":"middle"},"encoding":{"x":{"value":147},"y":{"field":"line","type":"quantitative","scale":{"type":"linear","domain":[0,12],"range":[2206,2584],"nice":false,"zero":false},"axis":null},"text":{"field":"t"}}},
 {"data":{"name":"one"},"mark":{"type":"text","text":"Closely related to the agile","font":"Liberation Serif","fontSize":38.5,"align":"left","baseline":"middle"},"encoding":{"x":{"value":527},"y":{"value":2204}}},
 {"data":{"name":"one"},"mark":{"type":"text","text":"approach is restructuring","font":"Liberation Serif","fontSize":38.5,"align":"left","baseline":"middle"},"encoding":{"x":{"value":967},"y":{"value":2204}}},
 {"data":{"name":"one"},"mark":{"type":"text","text":"using the","font":"Liberation Serif","fontSize":38.5,"align":"left","baseline":"middle"},"encoding":{"x":{"value":1377},"y":{"value":2204}}},
 {"data":{"name":"one"},"mark":{"type":"text","text":"DevOps","fontSize":33,"fontWeight":"bold","color":"#1a75bb","align":"left","baseline":"middle"},"encoding":{"x":{"value":1545},"y":{"value":2204}}},
 {"data":{"name":"one"},"mark":{"type":"text","text":"approach.","font":"Liberation Serif","fontSize":38.5,"align":"left","baseline":"middle"},"encoding":{"x":{"value":1696},"y":{"value":2204}}},
 {"data":{"name":"one"},"mark":{"type":"text","text":"Wikipedia (2015) explains the reasons behind this:","font":"Liberation Serif","fontSize":38,"align":"left","baseline":"middle"},"encoding":{"x":{"value":484.5},"y":{"value":2248}}},
 {"data":{"name":"quote"},"mark":{"type":"text","fontSize":33,"fontStyle":"italic","align":"left","baseline":"middle"},"encoding":{"x":{"value":525},"y":{"field":"line","type":"quantitative","scale":{"type":"linear","domain":[0,6],"range":[2316,2582.4],"nice":false,"zero":false},"axis":null},"text":{"field":"t"}}}
]
}
